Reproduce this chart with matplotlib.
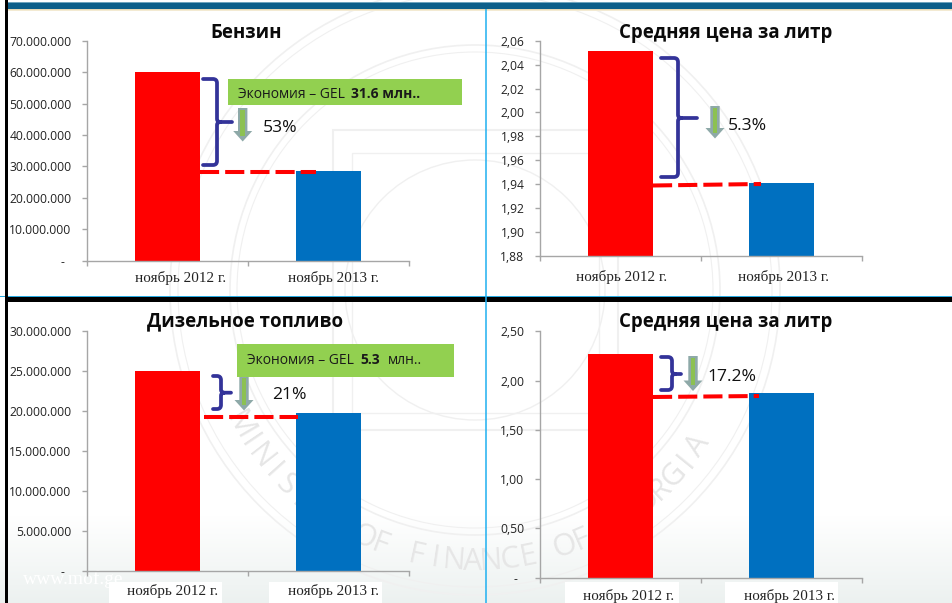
import numpy as np
import matplotlib
matplotlib.use("Agg")
import matplotlib.pyplot as plt
from matplotlib.path import Path
from matplotlib.patches import PathPatch, Polygon, Rectangle, Circle
from matplotlib.transforms import ScaledTranslation

W, H = 952, 603
SANS = "Open Sans"
SERIF = "Liberation Serif"

categories = ["ноябрь 2012 г.", "ноябрь 2013 г."]
petrol_volume = [60000000, 28500000]
petrol_price = [2.051, 1.941]
diesel_volume = [25000000, 19760000]
diesel_price = [2.27, 1.874]

petrol_volume_ticks = ["-", "10.000.000", "20.000.000", "30.000.000", "40.000.000", "50.000.000", "60.000.000", "70.000.000"]
petrol_price_ticks = ["1,88", "1,90", "1,92", "1,94", "1,96", "1,98", "2,00", "2,02", "2,04", "2,06"]
diesel_volume_ticks = ["-", "5.000.000", "10.000.000", "15.000.000", "20.000.000", "25.000.000", "30.000.000"]
diesel_price_ticks = ["-", "0,50", "1,00", "1,50", "2,00", "2,50"]

petrol_volume_locs = [0, 1e7, 2e7, 3e7, 4e7, 5e7, 6e7, 7e7]
petrol_price_locs = [1.88, 1.90, 1.92, 1.94, 1.96, 1.98, 2.00, 2.02, 2.04, 2.06]
diesel_volume_locs = [0, 5e6, 1e7, 1.5e7, 2e7, 2.5e7, 3e7]
diesel_price_locs = [0, 0.5, 1.0, 1.5, 2.0, 2.5]

fig = plt.figure(figsize=(W / 100, H / 100), dpi=100, facecolor="white")

# background layer in pixel coordinates
bg = fig.add_axes([0, 0, 1, 1], zorder=0)
bg.set_xlim(0, W); bg.set_ylim(H, 0); bg.axis("off")

grad = np.ones((H, 1, 3))
for y in range(515, H):
    t = (y - 515) / (H - 515)
    grad[y, 0] = np.array([1, 1, 1]) * (1 - t) + np.array([0.925, 0.945, 0.94]) * t
bg.imshow(grad, extent=[0, W, H, 0], aspect="auto", zorder=0)
bg.set_xlim(0, W); bg.set_ylim(H, 0)

# faint seal watermark
wm = "#f0f0f0"
cx, cy = 475, 290
for r, lw in [(305, 1.2), (297, 0.8), (245, 1.2), (238, 0.8), (130, 1.0)]:
    bg.add_patch(Circle((cx, cy), r, fill=False, ec=wm, lw=lw, zorder=1))
bg.add_patch(Rectangle((333, 130), 285, 300, fill=False, ec=wm, lw=1.5, zorder=1))
bg.add_patch(Rectangle((352, 153), 247, 260, fill=False, ec=wm, lw=1.0, zorder=1))
seal_text = "MINISTRY OF FINANCE OF GEORGIA"
angles = np.linspace(150, 35, len(seal_text))
for ch, a in zip(seal_text, angles):
    rad = np.radians(a)
    bg.text(cx + 272 * np.cos(rad), cy + 272 * np.sin(rad), ch, rotation=90 - a,
            rotation_mode="anchor", ha="center", va="center", fontsize=22,
            family=SANS, color="#e6e6e6", zorder=1)

# frame bands
bg.add_patch(Rectangle((8, 3), W, 5.5, fc="#0d5f8a", ec="none", zorder=2))
bg.add_patch(Rectangle((8, 2.2), W, 1, fc="#6fa4bd", ec="none", zorder=2))
bg.add_patch(Rectangle((8, 8.5), W, 1.2, fc="#e8d9b5", ec="none", zorder=2))
bg.add_patch(Rectangle((8, 9.7), W, 1.2, fc="#f3ead2", ec="none", zorder=2))
bg.add_patch(Rectangle((0, 296), W, 1, fc="#29abe2", ec="none", zorder=2))
bg.add_patch(Rectangle((5, 297), W, 5, fc="black", ec="none", zorder=2))
bg.add_patch(Rectangle((5, 0), 3, H, fc="black", ec="none", zorder=3))
bg.plot([485.6, 485.6], [9, H], color="#1fb0f0", lw=1.1, solid_capstyle="butt", zorder=4, scalex=False, scaley=False)
bg.text(23, 579, "www.mof.ge", family=SERIF, fontsize=14, color="white", va="center", zorder=2)

# white plates behind bottom axis labels
for x0, x1 in [(109, 222), (269, 382), (565, 679), (725, 838)]:
    bg.add_patch(Rectangle((x0, 582), x1 - x0, 21, fc="white", ec="none", zorder=2))

AXCOL = "#a6a6a6"
BARS = ["#ff0000", "#0070c0"]


def panel(x0, x1, ytop, ybot, vals, ylim, locs, labels):
    ax = fig.add_axes([x0 / W, 1 - ybot / H, (x1 - x0) / W, (ybot - ytop) / H],
                      zorder=1, facecolor="none")
    ax.bar([0.5, 1.5], vals, width=0.403, color=BARS, linewidth=0, zorder=2)
    ax.set_xlim(0, 2); ax.set_ylim(*ylim)
    ax.set_xticks([0, 1, 2]); ax.set_xticklabels([])
    ax.set_yticks(locs); ax.set_yticklabels(labels)
    for s in ("top", "right"):
        ax.spines[s].set_visible(False)
    for s in ("left", "bottom"):
        ax.spines[s].set_color(AXCOL); ax.spines[s].set_linewidth(1.0)
    ax.tick_params(axis="both", color=AXCOL, length=3.4, width=1.0)
    ax.tick_params(axis="y", labelsize=8.7, labelcolor="#222222", pad=7.5)
    for t in ax.get_yticklabels():
        t.set_family(SANS)
    if labels[0] == "-":
        lab = ax.get_yticklabels()[0]
        lab.set_transform(lab.get_transform() + ScaledTranslation(-7 / 100, 0, fig.dpi_scale_trans))
    return ax


panel(86.5, 409, 40.7, 260.7, petrol_volume, (0, 7e7), petrol_volume_locs, petrol_volume_ticks)
panel(539.7, 862.4, 40.7, 256, petrol_price, (1.88, 2.06), petrol_price_locs, petrol_price_ticks)
panel(86.5, 409, 331.3, 570.7, diesel_volume, (0, 3e7), diesel_volume_locs, diesel_volume_ticks)
panel(539.7, 862.4, 331.3, 577.7, diesel_price, (0, 2.5), diesel_price_locs, diesel_price_ticks)

# overlay for annotations, in pixels
ov = fig.add_axes([0, 0, 1, 1], zorder=5, facecolor="none")
ov.set_xlim(0, W); ov.set_ylim(H, 0); ov.axis("off")

for title, x, y in [("Бензин", 245.7, 33), ("Средняя цена за литр", 725.7, 33),
                    ("Дизельное топливо", 245, 321.7), ("Средняя цена за литр", 725.7, 321.7)]:
    ov.text(x, y, title, family=SANS, fontweight="bold", fontsize=13.4, ha="center", va="center", color="#0a0a0a")

for cat, x, y in [(0, 180.5, 278), (1, 333, 278), (0, 622, 277), (1, 783, 277),
                  (0, 172.8, 591), (1, 333, 591), (0, 629, 596), (1, 789, 596)]:
    ov.text(x, y, categories[cat], family=SERIF, fontsize=10.9, ha="center", va="center", color="#222222")


def brace(x0, xs, xt, y0, y1, ym):
    r = 4
    verts = [(x0, y0), (xs - r, y0), (xs, y0), (xs, y0 + r),
             (xs, ym - 3), (xs, ym), (xs + 3, ym), (xt, ym),
             (xs + 3, ym), (xs, ym), (xs, ym + 3),
             (xs, y1 - r), (xs, y1), (xs - r, y1), (x0, y1)]
    codes = [Path.MOVETO, Path.LINETO, Path.CURVE3, Path.CURVE3,
             Path.LINETO, Path.CURVE3, Path.CURVE3, Path.LINETO,
             Path.MOVETO, Path.CURVE3, Path.CURVE3,
             Path.LINETO, Path.CURVE3, Path.CURVE3, Path.LINETO]
    ov.add_patch(PathPatch(Path(verts, codes), fill=False, ec="#333399", lw=2.7, capstyle="round", joinstyle="round"))


brace(203, 217, 232, 79, 165, 122)
brace(661, 678, 697, 58, 177, 118)
brace(213, 221, 231, 376, 409, 392.7)
brace(661, 672, 681, 357, 390, 374)


def arrow(x, y0, y1, inner="#8cc152"):
    head = 9.5; stem = 4.7; hh = 10.5
    pts = [(x - stem, y0), (x + stem, y0), (x + stem, y1 - hh), (x + head, y1 - hh),
           (x, y1), (x - head, y1 - hh), (x - stem, y1 - hh)]
    ov.add_patch(Polygon(pts, closed=True, fc="#8ea9a8", ec="none"))
    ov.add_patch(Rectangle((x - 2.4, y0 + 2), 4.8, y1 - y0 - 8, fc=inner, ec="none"))


arrow(242.7, 108, 141.5)
arrow(715, 106, 138.5)
arrow(244, 376, 410.5)
arrow(693, 356, 391)

for x0, x1, y0, y1 in [(200, 316, 172, 172), (653, 761, 185.5, 184),
                       (204, 298, 416.7, 416.7), (653, 759, 397, 396)]:
    ov.plot([x0, x1], [y0, y1], color="#ff0000", lw=2.9, linestyle=(0, (4.75, 1.5)), dash_capstyle="butt")

for s, x, y in [("53%", 262.7, 127.7), ("5.3%", 728, 126), ("21%", 272, 395), ("17.2%", 707, 377)]:
    ov.text(x, y, s, family=SANS, fontsize=12.6, va="center", ha="left", color="#111111")

ov.add_patch(Rectangle((228, 79), 234, 26, fc="#92d050", ec="none"))
ov.add_patch(Rectangle((237, 344), 217, 33, fc="#92d050", ec="none"))
kw = dict(family=SANS, fontsize=10, va="center", ha="left", color="#1a1a1a")
ov.text(238, 94.5, "Экономия – GEL", **kw)
ov.text(351, 94.5, "31.6 млн..", fontweight="bold", **kw)
ov.text(247, 360, "Экономия – GEL", **kw)
ov.text(360, 360, "5.3", fontweight="bold", **kw)
ov.text(388, 360, "млн..", **kw)

fig.savefig("out.png", dpi=100)
